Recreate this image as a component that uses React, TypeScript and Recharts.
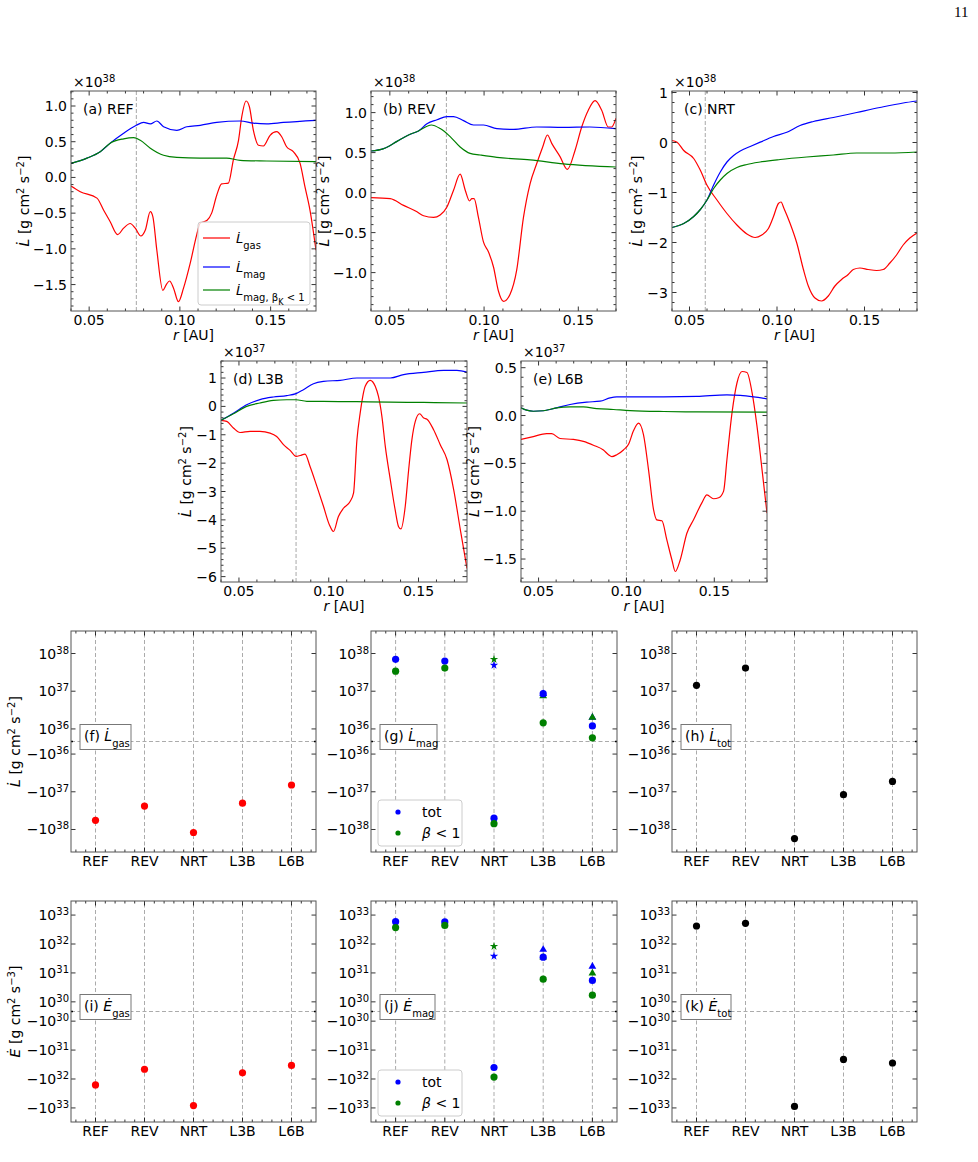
import React from "react"
import {
  LineChart, Line, XAxis, YAxis, ReferenceLine,
  ScatterChart, Scatter, Symbols,
} from "recharts"

type Pt = [number, number]
type Box = { x: number; y: number; w: number; h: number }

const FONT = "'DejaVu Sans', sans-serif"
const RED = "#ff0000"
const BLUE = "#0000ff"
const GREEN = "#008000"
const FRAME = "#555555"
const GRID = "#ababab"

// space kept around every plot box (axis labels live there)
const ML = 70, MT = 30, MR = 12, MB = 40

// ---------- radial profiles, r [AU] vs value (in units of the panel multiplier)
const refGas: Pt[] = [
  [0.0400, -0.12], [0.0451, -0.20], [0.0543, -0.29], [0.0580, -0.46], [0.0616, -0.62], [0.0657, -0.80],
  [0.0690, -0.71], [0.0726, -0.645], [0.0754, -0.71], [0.0785, -0.82], [0.0809, -0.74], [0.0837, -0.48],
  [0.0851, -0.55], [0.0873, -1.02], [0.0906, -1.58], [0.0925, -1.50], [0.0943, -1.45], [0.0965, -1.55],
  [0.0992, -1.74], [0.1020, -1.55], [0.1057, -1.20], [0.1093, -0.80], [0.1112, -0.64], [0.1150, -0.60],
  [0.1175, -0.50], [0.1203, -0.25], [0.1230, -0.09], [0.1267, -0.08], [0.1295, 0.25], [0.1323, 0.52],
  [0.1341, 0.85], [0.1365, 1.07], [0.1383, 0.99], [0.1405, 0.66], [0.1433, 0.45], [0.1460, 0.44],
  [0.1497, 0.59], [0.1533, 0.64], [0.1561, 0.57], [0.1588, 0.43], [0.1625, 0.36], [0.1662, 0.20],
  [0.1689, -0.13], [0.1717, -0.46], [0.1750, -1.02],
]
const refMag: Pt[] = [
  [0.0400, 0.196], [0.0488, 0.27], [0.0561, 0.36], [0.0616, 0.48], [0.0690, 0.62], [0.0760, 0.73],
  [0.0800, 0.77], [0.0837, 0.75], [0.0873, 0.79], [0.0910, 0.71], [0.0983, 0.66], [0.1038, 0.71],
  [0.1112, 0.73], [0.1203, 0.77], [0.1332, 0.79], [0.1405, 0.76], [0.1478, 0.75], [0.1570, 0.77],
  [0.1750, 0.80],
]
const refMagK: Pt[] = [
  [0.0400, 0.196], [0.0488, 0.27], [0.0561, 0.36], [0.0616, 0.48], [0.0690, 0.54], [0.0745, 0.556],
  [0.0782, 0.52], [0.0837, 0.41], [0.0910, 0.31], [0.0983, 0.28], [0.1112, 0.27], [0.1258, 0.27],
  [0.1332, 0.24], [0.1478, 0.23], [0.1750, 0.22],
]

const revGas: Pt[] = [
  [0.0400, -0.063], [0.0502, -0.075], [0.0573, -0.16], [0.0644, -0.24], [0.0679, -0.29], [0.0732, -0.31],
  [0.0767, -0.28], [0.0803, -0.18], [0.0838, 0.03], [0.0873, 0.23], [0.0900, 0.03], [0.0923, -0.105],
  [0.0935, -0.075], [0.0947, -0.075], [0.0970, -0.31], [0.0997, -0.62], [0.1023, -0.74], [0.1050, -0.93],
  [0.1076, -1.23], [0.1103, -1.36], [0.1138, -1.27], [0.1173, -0.97], [0.1209, -0.31], [0.1244, 0.11],
  [0.1279, 0.36], [0.1311, 0.57], [0.1336, 0.72], [0.1359, 0.615], [0.1403, 0.45], [0.1442, 0.29],
  [0.1483, 0.53], [0.1518, 0.82], [0.1553, 1.03], [0.1589, 1.15], [0.1624, 1.03], [0.1659, 0.82],
  [0.1677, 0.82], [0.1700, 0.93],
]
const revMag: Pt[] = [
  [0.0400, 0.52], [0.0467, 0.55], [0.0538, 0.64], [0.0608, 0.73], [0.0652, 0.77], [0.0697, 0.86],
  [0.0750, 0.91], [0.0803, 0.95], [0.0838, 0.95], [0.0891, 0.90], [0.0944, 0.845], [0.0997, 0.845],
  [0.1068, 0.80], [0.1156, 0.79], [0.1279, 0.82], [0.1421, 0.815], [0.1562, 0.82], [0.1700, 0.80],
]
const revMagK: Pt[] = [
  [0.0400, 0.52], [0.0467, 0.55], [0.0538, 0.64], [0.0608, 0.73], [0.0652, 0.77], [0.0697, 0.83],
  [0.0720, 0.845], [0.0767, 0.80], [0.0820, 0.70], [0.0873, 0.57], [0.0926, 0.49], [0.0979, 0.47],
  [0.1068, 0.44], [0.1244, 0.41], [0.1421, 0.36], [0.1700, 0.32],
]

const nrtGas: Pt[] = [
  [0.0400, 0.04], [0.0429, 0.007], [0.0467, -0.16], [0.0524, -0.32], [0.0562, -0.556], [0.0600, -0.854],
  [0.0657, -1.15], [0.0714, -1.42], [0.0771, -1.65], [0.0828, -1.83], [0.0875, -1.90], [0.0913, -1.85],
  [0.0951, -1.72], [0.0980, -1.48], [0.1008, -1.22], [0.1023, -1.19], [0.1040, -1.32], [0.1075, -1.62],
  [0.1113, -2.01], [0.1151, -2.54], [0.1179, -2.87], [0.1217, -3.11], [0.1255, -3.17], [0.1293, -3.07],
  [0.1331, -2.87], [0.1369, -2.74], [0.1407, -2.64], [0.1436, -2.54], [0.1474, -2.51], [0.1521, -2.54],
  [0.1569, -2.56], [0.1607, -2.54], [0.1645, -2.41], [0.1683, -2.25], [0.1721, -2.05], [0.1759, -1.91],
  [0.1800, -1.81],
]
const nrtMag: Pt[] = [
  [0.0400, -1.70], [0.0467, -1.62], [0.0524, -1.48], [0.0562, -1.34], [0.0600, -1.15], [0.0638, -0.85],
  [0.0676, -0.59], [0.0714, -0.39], [0.0752, -0.26], [0.0790, -0.17], [0.0847, -0.08], [0.0904, 0.007],
  [0.0980, 0.12], [0.1056, 0.205], [0.1132, 0.34], [0.1208, 0.42], [0.1322, 0.50], [0.1455, 0.60],
  [0.1588, 0.70], [0.1721, 0.79], [0.1800, 0.83],
]
const nrtMagK: Pt[] = [
  [0.0400, -1.70], [0.0467, -1.62], [0.0524, -1.48], [0.0562, -1.34], [0.0600, -1.15], [0.0638, -0.92],
  [0.0676, -0.75], [0.0714, -0.62], [0.0771, -0.50], [0.0828, -0.44], [0.0904, -0.39], [0.1018, -0.34],
  [0.1170, -0.29], [0.1322, -0.25], [0.1455, -0.21], [0.1645, -0.21], [0.1800, -0.19],
]

const l3bGas: Pt[] = [
  [0.0400, -0.49], [0.0432, -0.53], [0.0469, -0.76], [0.0506, -0.92], [0.0562, -0.88], [0.0617, -0.88],
  [0.0673, -0.94], [0.0710, -1.06], [0.0748, -1.35], [0.0785, -1.55], [0.0818, -1.76], [0.0841, -1.73],
  [0.0868, -1.68], [0.0896, -2.12], [0.0934, -2.82], [0.0971, -3.53], [0.1004, -4.18], [0.1026, -4.41],
  [0.1054, -3.88], [0.1082, -3.59], [0.1119, -3.35], [0.1138, -3.06], [0.1157, -1.18], [0.1175, -0.24],
  [0.1203, 0.71], [0.1231, 0.92], [0.1259, 0.71], [0.1277, 0.35], [0.1296, -0.35], [0.1315, -1.41],
  [0.1343, -2.59], [0.1370, -3.65], [0.1389, -4.24], [0.1402, -4.32], [0.1426, -3.53], [0.1445, -2.24],
  [0.1463, -1.18], [0.1482, -0.53], [0.1506, -0.26], [0.1529, -0.41], [0.1547, -0.45], [0.1584, -0.82],
  [0.1621, -1.35], [0.1659, -1.88], [0.1696, -2.94], [0.1733, -4.35], [0.1770, -5.71],
]
const l3bMag: Pt[] = [
  [0.0400, -0.49], [0.0469, -0.24], [0.0543, 0.06], [0.0617, 0.24], [0.0692, 0.33], [0.0766, 0.38],
  [0.0818, 0.45], [0.0859, 0.59], [0.0915, 0.80], [0.0971, 0.88], [0.1064, 0.92], [0.1157, 1.0],
  [0.1268, 1.0], [0.1343, 1.0], [0.1417, 1.12], [0.1528, 1.2], [0.1640, 1.27], [0.1714, 1.27],
  [0.1770, 1.21],
]
const l3bMagK: Pt[] = [
  [0.0400, -0.49], [0.0469, -0.26], [0.0543, 0.0], [0.0617, 0.12], [0.0692, 0.21], [0.0766, 0.235],
  [0.0818, 0.235], [0.0878, 0.18], [0.0971, 0.18], [0.1157, 0.165], [0.1343, 0.15], [0.1528, 0.14],
  [0.1770, 0.12],
]

const l6bGas: Pt[] = [
  [0.0400, -0.25], [0.0470, -0.22], [0.0546, -0.19], [0.0575, -0.19], [0.0622, -0.24], [0.0698, -0.25],
  [0.0755, -0.27], [0.0812, -0.31], [0.0869, -0.36], [0.0898, -0.41], [0.0917, -0.43], [0.0945, -0.41],
  [0.0983, -0.36], [0.1012, -0.30], [0.1040, -0.16], [0.1069, -0.08], [0.1097, -0.20], [0.1126, -0.57],
  [0.1154, -0.98], [0.1173, -1.09], [0.1202, -1.10], [0.1230, -1.30], [0.1259, -1.51], [0.1278, -1.63],
  [0.1306, -1.51], [0.1344, -1.23], [0.1382, -1.09], [0.1430, -0.91], [0.1458, -0.83], [0.1496, -0.87],
  [0.1525, -0.86], [0.1553, -0.79], [0.1572, -0.46], [0.1601, 0.03], [0.1629, 0.34], [0.1658, 0.46],
  [0.1686, 0.45], [0.1715, 0.24], [0.1743, -0.11], [0.1772, -0.57], [0.1800, -1.02],
]
const l6bMag: Pt[] = [
  [0.0400, 0.08], [0.0432, 0.056], [0.0470, 0.045], [0.0527, 0.05], [0.0603, 0.08], [0.0679, 0.115],
  [0.0774, 0.14], [0.0850, 0.15], [0.0907, 0.185], [0.0945, 0.195], [0.1021, 0.195], [0.1211, 0.195],
  [0.1401, 0.20], [0.1572, 0.216], [0.1648, 0.21], [0.1724, 0.195], [0.1800, 0.175],
]
const l6bMagK: Pt[] = [
  [0.0400, 0.08], [0.0432, 0.056], [0.0470, 0.045], [0.0527, 0.05], [0.0603, 0.08], [0.0679, 0.09],
  [0.0755, 0.09], [0.0831, 0.073], [0.0926, 0.063], [0.1021, 0.052], [0.1211, 0.042], [0.1401, 0.038],
  [0.1800, 0.035],
]

// ---------- per-model summary values
const cases = ["REF", "REV", "NRT", "L3B", "L6B"]
const altMarker = [null, null, "star", "triangle", "triangle"]

const lGas = [-5.7e37, -2.4e37, -1.2e38, -2.0e37, -6.6e36]
const lMagTot = [7.0e37, 6.3e37, -5.0e37, 8.6e36, 1.2e36]
const lMagB1 = [3.4e37, 4.1e37, -7.0e37, 1.45e36, 2.9e35]
const lMagTotAlt = [null, null, 4.9e37, 8.6e36, 2.0e36]
const lMagB1Alt = [null, null, 7.0e37, 7.5e36, 2.0e36]
const lTot = [1.43e37, 4.1e37, -1.74e38, -1.19e37, -5.3e36]

const eGas = [-1.6e32, -4.6e31, -8.3e32, -6.1e31, -3.4e31]
const eMagTot = [5.9e32, 5.8e32, -4.0e31, 3.5e31, 5.5e30]
const eMagB1 = [3.7e32, 4.4e32, -8.6e31, 6.1e30, 1.7e30]
const eMagTotAlt = [null, null, 3.8e31, 6.4e31, 1.66e31]
const eMagB1Alt = [null, null, 8.3e31, 3.5e31, 9.8e30]
const eTot = [4.2e32, 5.2e32, -8.9e32, -2.1e31, -2.8e31]

const lExps = [36, 37, 38]
const eExps = [30, 31, 32, 33]

// ---------- helpers
const range = (lo: number, hi: number, step: number) => {
  const out: number[] = []
  for (let k = Math.ceil(lo / step - 1e-9); k <= Math.floor(hi / step + 1e-9); k++) {
    out.push(Math.round(k * step * 1e6) / 1e6)
  }
  return out
}
const isMult = (v: number, step: number) => Math.abs(v / step - Math.round(v / step)) < 1e-6

// matplotlib symlog, linscale 0.3 -> linear half width 1/3 decade
const symlog = (v: number, th: number) => {
  const a = Math.abs(v)
  const t = a <= th ? a / th / 3 : Math.log10(a / th) + 1 / 3
  return Math.sign(v) * t
}

const Sup = ({ children }: { children: React.ReactNode }) => (
  <tspan baselineShift="super" fontSize={10}>{children}</tspan>
)
const Sub = ({ children }: { children: React.ReactNode }) => (
  <tspan baselineShift="sub" fontSize={10}>{children}</tspan>
)
const Dot = ({ s }: { s: string }) => <tspan fontStyle="italic">{`${s}\u0307`}</tspan>

const YLab = ({ x, y, s, p }: { x: number; y: number; s: string; p: string }) => (
  <text transform={`translate(${x},${y}) rotate(-90)`} textAnchor="middle" fontSize={14}>
    <Dot s={s} /> [g cm<Sup>2</Sup> s<Sup>{"\u2212" + p}</Sup>]
  </text>
)

const xTick = (ph: number, step: number, fmt: (v: number) => string) => (p: any) => {
  const { x, y, payload } = p
  const v = payload.value
  const major = isMult(v, step)
  const len = major ? 4.5 : 2.5
  return (
    <g>
      <line x1={x} x2={x} y1={y} y2={y - len} stroke="#000" strokeWidth={0.8} />
      <line x1={x} x2={x} y1={y - ph} y2={y - ph + len} stroke="#000" strokeWidth={0.8} />
      {major && (
        <text x={x} y={y + 14} textAnchor="middle" fontSize={14} fontFamily={FONT} fill="#000">{fmt(v)}</text>
      )}
    </g>
  )
}

const yTick = (pw: number, step: number, fmt: (v: number) => string) => (p: any) => {
  const { x, y, payload } = p
  const v = payload.value
  const major = isMult(v, step)
  const len = major ? 4.5 : 2.5
  return (
    <g>
      <line x1={x} x2={x + len} y1={y} y2={y} stroke="#000" strokeWidth={0.8} />
      <line x1={x + pw} x2={x + pw - len} y1={y} y2={y} stroke="#000" strokeWidth={0.8} />
      {major && (
        <text x={x - 4} y={y + 5} textAnchor="end" fontSize={14} fontFamily={FONT} fill="#000">{fmt(v)}</text>
      )}
    </g>
  )
}

// ---------- profile panels
type LineCfg = {
  box: Box; xMax: number; yDom: [number, number]; yStep: number; yMinor: number; dec: number
  mult: number; label: string; vline: number; gas: Pt[]; mag: Pt[]; magK: Pt[]; ylabOff: number; legend?: boolean
}

const linePanels: LineCfg[] = [
  { box: { x: 71, y: 91, w: 245, h: 220 }, xMax: 0.175, yDom: [-1.87, 1.21], yStep: 0.5, yMinor: 0.1, dec: 1,
    mult: 38, label: "(a) REF", vline: 0.076, gas: refGas, mag: refMag, magK: refMagK, ylabOff: 42, legend: true },
  { box: { x: 371, y: 91, w: 245, h: 220 }, xMax: 0.17, yDom: [-1.48, 1.27], yStep: 0.5, yMinor: 0.1, dec: 1,
    mult: 38, label: "(b) REV", vline: 0.080, gas: revGas, mag: revMag, magK: revMagK, ylabOff: 42 },
  { box: { x: 672, y: 91, w: 245, h: 220 }, xMax: 0.18, yDom: [-3.37, 1.03], yStep: 1, yMinor: 0.2, dec: 0,
    mult: 38, label: "(c) NRT", vline: 0.059, gas: nrtGas, mag: nrtMag, magK: nrtMagK, ylabOff: 30 },
  { box: { x: 221, y: 361, w: 246, h: 221 }, xMax: 0.177, yDom: [-6.19, 1.6], yStep: 1, yMinor: 0.2, dec: 0,
    mult: 37, label: "(d) L3B", vline: 0.0818, gas: l3bGas, mag: l3bMag, magK: l3bMagK, ylabOff: 30 },
  { box: { x: 521, y: 361, w: 246, h: 221 }, xMax: 0.18, yDom: [-1.74, 0.57], yStep: 0.5, yMinor: 0.1, dec: 1,
    mult: 37, label: "(e) L6B", vline: 0.100, gas: l6bGas, mag: l6bMag, magK: l6bMagK, ylabOff: 42 },
]

const toObj = (a: Pt[]) => a.map(([r, v]) => ({ r, v }))

function LinePanel({ cfg }: { cfg: LineCfg }) {
  const { box, xMax, yDom, yStep, yMinor, dec, mult, label, vline, gas, mag, magK, ylabOff, legend } = cfg
  const W = ML + box.w + MR
  const H = MT + box.h + MB
  const xt = range(0.04, xMax, 0.01)
  const yt = range(yDom[0], yDom[1], yMinor)
  const fmtY = (v: number) => (v < -1e-9 ? "\u2212" : "") + Math.abs(v).toFixed(dec)
  return (
    <div style={{ position: "absolute", left: box.x - ML, top: box.y - MT, width: W, height: H }}>
      <LineChart width={W} height={H} margin={{ top: MT, right: MR, bottom: 0, left: 0 }}>
        <XAxis type="number" dataKey="r" domain={[0.04, xMax]} allowDataOverflow ticks={xt} interval={0}
          height={MB} tickSize={0} tickMargin={0} tickLine={false} axisLine={false}
          tick={xTick(box.h, 0.05, (v) => v.toFixed(2))} />
        <YAxis type="number" dataKey="v" domain={yDom} allowDataOverflow ticks={yt} interval={0}
          width={ML} tickSize={0} tickMargin={0} tickLine={false} axisLine={false}
          tick={yTick(box.w, yStep, fmtY)} />
        <ReferenceLine x={vline} stroke="#a8a8a8" strokeDasharray="4 2" />
        <Line data={toObj(gas)} dataKey="v" type="monotone" stroke={RED} strokeWidth={1.2} dot={false} isAnimationActive={false} />
        <Line data={toObj(mag)} dataKey="v" type="monotone" stroke={BLUE} strokeWidth={1.2} dot={false} isAnimationActive={false} />
        <Line data={toObj(magK)} dataKey="v" type="monotone" stroke={GREEN} strokeWidth={1.2} dot={false} isAnimationActive={false} />
      </LineChart>
      <svg width={W} height={H} fontFamily={FONT} fill="#000"
        style={{ position: "absolute", left: 0, top: 0, pointerEvents: "none", overflow: "visible" }}>
        <rect x={ML} y={MT} width={box.w} height={box.h} fill="none" stroke={FRAME} strokeWidth={1} />
        <text x={ML + 2} y={MT - 4} fontSize={14}>×10<Sup>{mult}</Sup></text>
        <text x={ML + 12} y={MT + 23} fontSize={14}>{label}</text>
        <YLab x={ML - ylabOff} y={MT + box.h / 2} s="L" p="2" />
        <text x={ML + box.w / 2} y={MT + box.h + 29} textAnchor="middle" fontSize={14}>
          <tspan fontStyle="italic">r</tspan> [AU]
        </text>
        {legend && (
          <g transform={`translate(${ML},${MT})`}>
            <rect x={127} y={131} width={112} height={83} rx={3} fill="#fff" fillOpacity={0.8} stroke="#cccccc" />
            <line x1={132} x2={159} y1={147} y2={147} stroke={RED} strokeWidth={1.2} />
            <line x1={132} x2={159} y1={176} y2={176} stroke={BLUE} strokeWidth={1.2} />
            <line x1={132} x2={159} y1={199} y2={199} stroke={GREEN} strokeWidth={1.2} />
            <text x={165} y={152} fontSize={13}><Dot s="L" /><Sub>gas</Sub></text>
            <text x={165} y={181} fontSize={13}><Dot s="L" /><Sub>mag</Sub></text>
            <text x={165} y={204} fontSize={13}>
              <Dot s="L" /><tspan baselineShift="sub" fontSize={10}>mag, β<tspan baselineShift="sub" fontSize={8}>K</tspan> &lt; 1</tspan>
            </text>
          </g>
        )}
      </svg>
    </div>
  )
}

// ---------- summary panels
type Series = { vals: (number | null)[]; color: string; alt?: boolean }
type ScatterCfg = {
  box: Box; th: number; base: number; exps: number[]; lim: number; tag: string; sym: string; sub: string
  boxW: number; series: Series[]; legend?: boolean; yLab?: string
}

const scatterPanels: ScatterCfg[] = [
  { box: { x: 71, y: 631, w: 245, h: 221 }, th: 1e36, base: 36, exps: lExps, lim: 2.93, tag: "(f)", sym: "L", sub: "gas",
    boxW: 51, yLab: "2", series: [{ vals: lGas, color: RED }] },
  { box: { x: 371, y: 631, w: 246, h: 221 }, th: 1e36, base: 36, exps: lExps, lim: 2.93, tag: "(g)", sym: "L", sub: "mag",
    boxW: 57, legend: true,
    series: [
      { vals: lMagTotAlt, color: BLUE, alt: true }, { vals: lMagB1Alt, color: GREEN, alt: true },
      { vals: lMagTot, color: BLUE }, { vals: lMagB1, color: GREEN },
    ] },
  { box: { x: 672, y: 631, w: 245, h: 221 }, th: 1e36, base: 36, exps: lExps, lim: 2.93, tag: "(h)", sym: "L", sub: "tot",
    boxW: 50, series: [{ vals: lTot, color: "#000" }] },
  { box: { x: 71, y: 901, w: 245, h: 221 }, th: 1e30, base: 30, exps: eExps, lim: 3.82, tag: "(i)", sym: "E", sub: "gas",
    boxW: 51, yLab: "3", series: [{ vals: eGas, color: RED }] },
  { box: { x: 371, y: 901, w: 246, h: 221 }, th: 1e30, base: 30, exps: eExps, lim: 3.82, tag: "(j)", sym: "E", sub: "mag",
    boxW: 55, legend: true,
    series: [
      { vals: eMagTotAlt, color: BLUE, alt: true }, { vals: eMagB1Alt, color: GREEN, alt: true },
      { vals: eMagTot, color: BLUE }, { vals: eMagB1, color: GREEN },
    ] },
  { box: { x: 672, y: 901, w: 245, h: 221 }, th: 1e30, base: 30, exps: eExps, lim: 3.82, tag: "(k)", sym: "E", sub: "tot",
    boxW: 50, series: [{ vals: eTot, color: "#000" }] },
]

const catTick = (ph: number) => (p: any) => {
  const { x, y, payload } = p
  const v = payload.value
  const major = isMult(v, 1)
  const len = major ? 4.5 : 2.5
  return (
    <g>
      <line x1={x} x2={x} y1={y} y2={y - len} stroke="#000" strokeWidth={0.8} />
      <line x1={x} x2={x} y1={y - ph} y2={y - ph + len} stroke="#000" strokeWidth={0.8} />
      {major && (
        <text x={x} y={y + 14} textAnchor="middle" fontSize={14} fontFamily={FONT} fill="#000">{cases[Math.round(v)]}</text>
      )}
    </g>
  )
}

const logTick = (pw: number, base: number) => (p: any) => {
  const { x, y, payload } = p
  const v = payload.value
  if (Math.abs(v) < 1e-9) {
    return (
      <g>
        <line x1={x} x2={x + 2} y1={y} y2={y} stroke="#000" strokeWidth={1.5} />
        <line x1={x + pw} x2={x + pw - 2} y1={y} y2={y} stroke="#000" strokeWidth={1.5} />
      </g>
    )
  }
  const e = base + Math.round(Math.abs(v) - 1 / 3)
  return (
    <g>
      <line x1={x} x2={x + 4.5} y1={y} y2={y} stroke="#000" strokeWidth={0.8} />
      <line x1={x + pw} x2={x + pw - 4.5} y1={y} y2={y} stroke="#000" strokeWidth={0.8} />
      <text x={x - 2} y={y + 5} textAnchor="end" fontSize={14} fontFamily={FONT} fill="#000">
        {v < 0 ? "\u221210" : "10"}<Sup>{e}</Sup>
      </text>
    </g>
  )
}

const marker = (color: string, p: any) => {
  const kind = p.payload?.kind
  if (kind === "star" || kind === "triangle") {
    return <Symbols cx={p.cx} cy={p.cy} type={kind} size={kind === "star" ? 22 : 26} fill={color} />
  }
  return <circle cx={p.cx} cy={p.cy} r={3.6} fill={color} />
}

function ScatterPanel({ cfg }: { cfg: ScatterCfg }) {
  const { box, th, base, exps, lim, tag, sym, sub, boxW, series, legend, yLab } = cfg
  const W = ML + box.w + MR
  const H = MT + box.h + MB
  const xt = range(-0.4, 4.4, 0.2)
  const yt = [...exps.map((e) => -symlog(10 ** e, th)).reverse(), 0, ...exps.map((e) => symlog(10 ** e, th))]
  const zeroY = MT + box.h / 2
  return (
    <div style={{ position: "absolute", left: box.x - ML, top: box.y - MT, width: W, height: H }}>
      <ScatterChart width={W} height={H} margin={{ top: MT, right: MR, bottom: 0, left: 0 }}>
        <XAxis type="number" dataKey="x" domain={[-0.5, 4.5]} allowDataOverflow ticks={xt} interval={0}
          height={MB} tickSize={0} tickMargin={0} tickLine={false} axisLine={false} tick={catTick(box.h)} />
        <YAxis type="number" dataKey="y" domain={[-lim, lim]} allowDataOverflow ticks={yt} interval={0}
          width={ML} tickSize={0} tickMargin={0} tickLine={false} axisLine={false} tick={logTick(box.w, base)} />
        {cases.map((c, i) => (
          <ReferenceLine key={c} x={i} stroke={GRID} strokeDasharray="4 2.5" />
        ))}
        <ReferenceLine y={0} stroke={GRID} strokeDasharray="4 2.5" />
        {series.map((s, si) => (
          <Scatter key={si} isAnimationActive={false}
            data={s.vals
              .map((v, i) => (v == null ? null : { x: i, y: symlog(v, th), kind: s.alt ? altMarker[i] : "circle" }))
              .filter((d) => d != null)}
            shape={(p: any) => marker(s.color, p)} />
        ))}
      </ScatterChart>
      <svg width={W} height={H} fontFamily={FONT} fill="#000"
        style={{ position: "absolute", left: 0, top: 0, pointerEvents: "none", overflow: "visible" }}>
        <rect x={ML} y={MT} width={box.w} height={box.h} fill="none" stroke={FRAME} strokeWidth={1} />
        <rect x={ML + 9} y={zeroY - 17} width={boxW} height={25} fill="#fff" stroke="#777" strokeWidth={1} />
        <text x={ML + 13} y={zeroY - 1} fontSize={14}>{tag} <Dot s={sym} /><Sub>{sub}</Sub></text>
        {yLab && <YLab x={ML - 51} y={zeroY} s={sym} p={yLab} />}
        {legend && (
          <g>
            <rect x={ML + 7} y={MT + box.h - 52} width={84} height={46} rx={3} fill="#fff" stroke="#cccccc" />
            <circle cx={ML + 27} cy={MT + box.h - 40} r={2.6} fill={BLUE} />
            <circle cx={ML + 27} cy={MT + box.h - 19} r={2.6} fill={GREEN} />
            <text x={ML + 51} y={MT + box.h - 35} fontSize={14}>tot</text>
            <text x={ML + 51} y={MT + box.h - 14} fontSize={14}><tspan fontStyle="italic">β</tspan> &lt; 1</text>
          </g>
        )}
      </svg>
    </div>
  )
}

export default function App() {
  return (
    <div style={{ position: "absolute", left: 0, top: 0, width: 978, height: 1162, background: "#fff", fontFamily: FONT }}>
      <div style={{ position: "absolute", left: 954, top: 4, fontFamily: "'Liberation Serif', serif", fontSize: 15 }}>11</div>
      {linePanels.map((c) => <LinePanel key={c.label} cfg={c} />)}
      {scatterPanels.map((c) => <ScatterPanel key={c.tag} cfg={c} />)}
    </div>
  )
}
